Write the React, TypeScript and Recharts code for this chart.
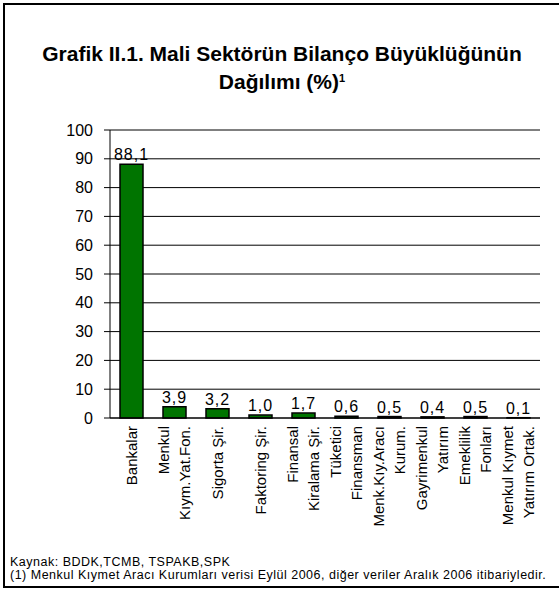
import React from "react";
import {
  BarChart,
  Bar,
  XAxis,
  YAxis,
  CartesianGrid,
  LabelList,
  ReferenceLine,
} from "recharts";

const categories: string[][] = [
  ["Bankalar"],
  ["Menkul", "Kıym.Yat.Fon."],
  ["Sigorta Şir."],
  ["Faktoring Şir."],
  ["Finansal", "Kiralama Şir."],
  ["Tüketici", "Finansman"],
  ["Menk.Kıy.Aracı", "Kurum."],
  ["Gayrimenkul", "Yatırım"],
  ["Emeklilik", "Fonları"],
  ["Menkul Kıymet", "Yatırım Ortak."],
];
const values: number[] = [88.1, 3.9, 3.2, 1.0, 1.7, 0.6, 0.5, 0.4, 0.5, 0.1];
const yTicks: number[] = [0, 10, 20, 30, 40, 50, 60, 70, 80, 90, 100];
const boundaryTicks: number[] = [0, 1, 2, 3, 4, 5, 6, 7, 8, 9, 10];

const data = categories.map((c, i) => ({ name: c.join("|"), value: values[i] }));

const FONT = "'Liberation Sans', Arial, sans-serif";

const CatTick = (props: any) => {
  const { x, y, payload } = props;
  const lines: string[] = String(payload.value).split("|");
  const n = lines.length;
  const spacing = 21;
  return (
    <g transform={`translate(${x},${y})`}>
      <text
        transform="rotate(-90)"
        textAnchor="end"
        fontFamily={FONT}
        fontSize={15}
        fill="#000"
      >
        {lines.map((l, i) => (
          <tspan key={i} x={0} y={(i - (n - 1) / 2) * spacing} dy="0.35em">
            {l}
          </tspan>
        ))}
      </text>
    </g>
  );
};

const fmt = (v: any) => Number(v).toFixed(1).replace(".", ",");

export default function App() {
  return (
    <div
      style={{
        position: "absolute",
        left: 0,
        top: 0,
        width: 559,
        height: 590,
        background: "#fff",
        overflow: "hidden",
        fontFamily: FONT,
      }}
    >
      <div
        style={{
          position: "absolute",
          left: 3,
          top: 3,
          width: 570,
          height: 581,
          border: "2px solid #000",
        }}
      />
      <div
        style={{
          position: "absolute",
          left: 3,
          width: 558,
          top: 40,
          textAlign: "center",
          fontWeight: "bold",
          fontSize: 21,
          lineHeight: "28px",
          color: "#000",
        }}
      >
        Grafik II.1. Mali Sektörün Bilanço Büyüklüğünün
        <br />
        Dağılımı (%)
        <sup style={{ fontSize: 11, verticalAlign: "top", position: "relative", top: -4 }}>1</sup>
      </div>
      <div style={{ position: "absolute", left: 0, top: 0 }}>
        <BarChart
          width={559}
          height={590}
          data={data}
          margin={{ top: 130, right: 19, left: 50, bottom: 42 }}
        >
          <XAxis
            xAxisId="num"
            type="number"
            domain={[0, 10]}
            ticks={boundaryTicks}
            height={0}
            axisLine={false}
            tick={false}
            tickLine={{ stroke: "#000" }}
            tickSize={6}
            allowDataOverflow
          />
          <XAxis
            xAxisId="cat"
            dataKey="name"
            height={130}
            interval={0}
            tickLine={false}
            axisLine={{ stroke: "#000" }}
            tick={<CatTick />}
          />
          <YAxis
            domain={[0, 100]}
            ticks={yTicks}
            interval={0}
            width={60}
            tickSize={6}
            tickMargin={11}
            axisLine={{ stroke: "#000" }}
            tickLine={{ stroke: "#000" }}
            tick={{ fill: "#000", fontSize: 16, fontFamily: FONT }}
          />
          <CartesianGrid xAxisId="cat" vertical={false} stroke="#000" />
          <ReferenceLine y={100} xAxisId="cat" stroke="#808080" />
          <ReferenceLine x={10} xAxisId="num" stroke="#808080" />
          <Bar
            xAxisId="cat"
            dataKey="value"
            fill="#007400"
            stroke="#000"
            strokeWidth={1.5}
            barSize={23}
            isAnimationActive={false}
          >
            <LabelList
              dataKey="value"
              position="top"
              offset={4}
              formatter={fmt}
              fill="#000"
              fontSize={16}
              fontFamily={FONT}
              letterSpacing={1}
            />
          </Bar>
        </BarChart>
      </div>
      <div
        style={{
          position: "absolute",
          left: 10,
          top: 556,
          fontSize: 12.5,
          letterSpacing: 0.5,
          lineHeight: "13px",
          color: "#000",
          whiteSpace: "nowrap",
        }}
      >
        Kaynak: BDDK,TCMB, TSPAKB,SPK
        <br />
        (1) Menkul Kıymet Aracı Kurumları verisi Eylül 2006, diğer veriler Aralık 2006 itibariyledir.
      </div>
    </div>
  );
}
